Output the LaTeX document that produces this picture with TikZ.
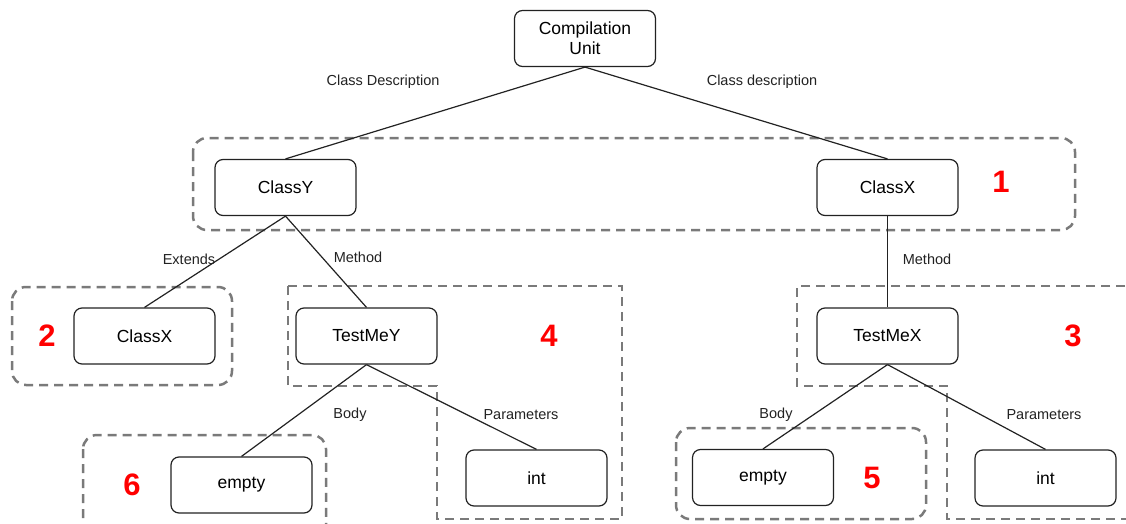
\documentclass[tikz,border=0pt]{standalone}
\usepackage{fontspec}
\setmainfont{Liberation Sans}
\usepackage{xcolor}
\usepackage{tikz}
\definecolor{inkline}{RGB}{34,34,34}
\definecolor{zonegray}{RGB}{122,122,122}
\definecolor{zonered}{RGB}{255,0,0}

\begin{document}
\begin{tikzpicture}[x=1pt, y=-1pt,
  treebox/.style={draw=inkline, line width=1.2pt, rounded corners=8pt, minimum width=141pt, minimum height=56pt, align=center, font=\fontsize{17.5}{20}\selectfont},
  edgelbl/.style={font=\fontsize{14.5}{16}\selectfont, text=inkline},
  zone/.style={draw=zonegray, line width=2.5pt, dash pattern=on 9pt off 6pt},
  zonenum/.style={text=zonered, font=\fontsize{31}{34}\selectfont\bfseries},
  link/.style={draw=inkline, line width=1.2pt}]
  \useasboundingbox (0,0) rectangle (1126,524);
  \clip (0,0) rectangle (1126,524);
  % grouping zones
  \draw[zone, rounded corners=14pt] (193,138) rectangle (1075,230);
  \draw[zone, rounded corners=14pt] (12,287) rectangle (232,385);
  \draw[zone, rounded corners=14pt] (83,435) rectangle (326,570);
  \draw[zone, rounded corners=14pt] (676,428) rectangle (926,519);
  \draw[zone] (288,286) -- (622,286) -- (622,519) -- (437,519) -- (437,386) -- (288,386) -- cycle;
  \draw[zone] (1140,286) -- (797,286) -- (797,386) -- (947,386) -- (947,519) -- (1140,519);
  \node[zonenum] (n1) at (1001,182) {1};
  \node[zonenum] (n2) at (47,336) {2};
  \node[zonenum] (n3) at (1073,336) {3};
  \node[zonenum] (n4) at (549,336) {4};
  \node[zonenum] (n5) at (872,478) {5};
  \node[zonenum] (n6) at (132,485) {6};
  % tree
  \node[treebox] (unit) at (585,38.5) {Compilation\\Unit};
  \node[treebox] (classy) at (285.5,187.5) {ClassY};
  \node[treebox] (classx) at (887.5,187.5) {ClassX};
  \node[treebox] (extx) at (144.5,336) {ClassX};
  \node[treebox] (testy) at (366.5,336) {TestMeY};
  \node[treebox] (testx) at (887.5,336) {TestMeX};
  \node[treebox] (emptyy) at (241.5,485) {empty};
  \node[treebox] (inty) at (536.5,478) {int};
  \node[treebox] (emptyx) at (763,477.5) {empty};
  \node[treebox] (intx) at (1045.5,478) {int};
  \draw[link] (unit.south) -- (classy.north);
  \draw[link] (unit.south) -- (classx.north);
  \draw[link] (classy.south) -- (extx.north);
  \draw[link] (classy.south) -- (testy.north);
  \draw[link] (classx.south) -- (testx.north);
  \draw[link] (testy.south) -- (emptyy.north);
  \draw[link] (testy.south) -- (inty.north);
  \draw[link] (testx.south) -- (emptyx.north);
  \draw[link] (testx.south) -- (intx.north);
  \node[edgelbl] (l1) at (383,82) {Class Description};
  \node[edgelbl] (l2) at (762,82) {Class description};
  \node[edgelbl] (l3) at (189,259) {Extends};
  \node[edgelbl] (l4) at (358,257) {Method};
  \node[edgelbl] (l5) at (927,259) {Method};
  \node[edgelbl] (l6) at (350,415) {Body};
  \node[edgelbl] (l7) at (521,415) {Parameters};
  \node[edgelbl] (l8) at (776,415) {Body};
  \node[edgelbl] (l9) at (1044,415) {Parameters};
\end{tikzpicture}
\end{document}
